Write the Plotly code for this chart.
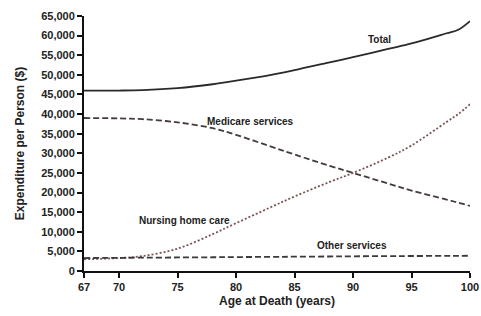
import plotly.graph_objects as go

ages = [67, 70, 72, 75, 78, 80, 83, 85, 88, 90, 93, 95, 98, 99, 100]
total = [46000, 46000, 46100, 46600, 47600, 48500, 50000, 51200, 53200, 54500, 56600, 58000, 60600, 61500, 63700]
medicare = [39000, 38900, 38700, 37900, 36400, 34700, 31700, 29700, 26800, 25000, 22300, 20500, 18200, 17400, 16600]
nursing = [3000, 3300, 3800, 5700, 9400, 12200, 16300, 19000, 22700, 25000, 28900, 32000, 38000, 40000, 42500]
other = [3300, 3350, 3400, 3450, 3500, 3550, 3600, 3650, 3700, 3750, 3800, 3820, 3850, 3870, 3900]

x_ticks = [67, 70, 75, 80, 85, 90, 95, 100]
y_ticks = list(range(0, 65001, 5000))
y_tick_labels = [f"{v:,}" for v in y_ticks]

labels = ["Total", "Medicare services", "Nursing home care", "Other services"]
label_x = [92.3, 81.2, 75.6, 89.9]
label_y = [58900, 38000, 13000, 6600]

fig = go.Figure()
fig.add_trace(go.Scatter(x=ages, y=total, mode="lines", line=dict(color="#2a2a2a", width=1.8, shape="spline"), name="Total"))
fig.add_trace(go.Scatter(x=ages, y=medicare, mode="lines", line=dict(color="#453c3c", width=1.8, dash="6px,3px", shape="spline"), name="Medicare services"))
fig.add_trace(go.Scatter(x=ages, y=nursing, mode="lines", line=dict(color="#7a5555", width=1.8, dash="2px,2px", shape="spline"), name="Nursing home care"))
fig.add_trace(go.Scatter(x=ages, y=other, mode="lines", line=dict(color="#3a3a3a", width=1.8, dash="6px,3px", shape="spline"), name="Other services"))

for t, lx, ly in zip(labels, label_x, label_y):
    fig.add_annotation(x=lx, y=ly, text=t, showarrow=False, xanchor="center", yanchor="middle",
                       font=dict(family="Liberation Sans", size=10, color="#222", weight="bold"))

axis_font = dict(family="Liberation Sans", size=11, color="#222", weight="bold")
fig.update_layout(
    width=481, height=316,
    margin=dict(l=84, r=11, t=16, b=45, autoexpand=False),
    paper_bgcolor="white", plot_bgcolor="white",
    showlegend=False,
    xaxis=dict(range=[67, 100], tickvals=x_ticks, ticktext=[str(v) for v in x_ticks], automargin=False,
               showgrid=False, zeroline=False, showline=True, linecolor="#111", linewidth=2,
               ticks="outside", ticklen=5, tickwidth=1.5, tickcolor="#111", tickfont=axis_font,
               title=dict(text="Age at Death (years)", font=dict(family="Liberation Sans", size=12, color="#222", weight="bold"), standoff=4)),
    yaxis=dict(range=[0, 65000], tickvals=y_ticks, ticktext=y_tick_labels, automargin=False,
               showgrid=False, zeroline=False, showline=True, linecolor="#111", linewidth=2,
               ticks="outside", ticklen=5, tickwidth=1.5, tickcolor="#111", tickfont=axis_font,
               title=dict(text="Expenditure per Person ($)", font=dict(family="Liberation Sans", size=12, color="#222", weight="bold"), standoff=14)),
)

fig.write_html("out.html", config={"displayModeBar": False},
               post_script="document.body.style.margin='0';document.body.style.overflow='hidden';")
